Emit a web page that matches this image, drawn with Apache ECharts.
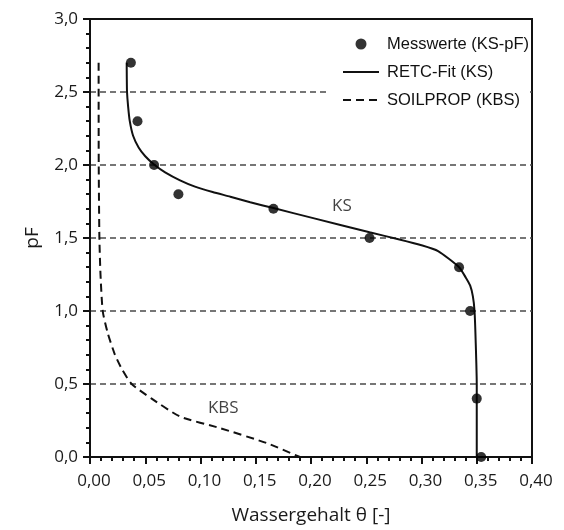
<!DOCTYPE html>
<html>
<head>
<meta charset="utf-8">
<script src="https://cdn.jsdelivr.net/npm/echarts@6/dist/echarts.min.js"></script>
<style>html,body{margin:0;padding:0;background:#fff}#c{width:564px;height:530px}</style>
</head>
<body>
<div id="c"></div>
<script>
// Messwerte (KS-pF)
const messTheta = [0.037, 0.043, 0.058, 0.080, 0.166, 0.253, 0.334, 0.344, 0.350, 0.354];
const messPF    = [2.7,   2.3,   2.0,   1.8,   1.7,   1.5,   1.3,   1.0,   0.4,   0.0];
// RETC-Fit (KS)
const retcTheta = [0.0332, 0.0333, 0.0335, 0.0345, 0.036, 0.039, 0.044, 0.050, 0.0585, 0.068, 0.0815, 0.095, 0.111, 0.127, 0.145, 0.166, 0.202, 0.253, 0.280, 0.300, 0.315, 0.334, 0.340, 0.344, 0.3465, 0.348, 0.349, 0.350, 0.350];
const retcPF    = [2.70,   2.60,   2.50,   2.40,   2.30,  2.20,  2.12,  2.06,  2.00,   1.95,  1.895,  1.852, 1.815, 1.783, 1.745, 1.705, 1.636, 1.539, 1.49,  1.45,  1.41,  1.30,  1.23,  1.175, 1.10,   1.00,  0.80,  0.50,  0.00];
// SOILPROP (KBS)
const kbsTheta = [0.0078, 0.0079, 0.0085, 0.0095, 0.0115, 0.016, 0.0226, 0.029, 0.0377, 0.0558, 0.0815, 0.1177, 0.160, 0.190];
const kbsPF    = [2.70,   2.00,   1.50,   1.25,   1.00,   0.85,  0.70,   0.60,  0.50,   0.40,   0.277,  0.198,  0.095, 0.00];
// inline annotations
const annoText  = ['KS', 'KBS'];
const annoTheta = [0.228, 0.1206];
const annoPF    = [1.72, 0.334];
// axis ticks
const xTickMin = 0, xTickMax = 0.4, xTickStep = 0.05;
const yTickMin = 0, yTickMax = 3.0, yTickStep = 0.5;
const seriesNames = ['Messwerte (KS-pF)', 'RETC-Fit (KS)', 'SOILPROP (KBS)'];
const xName = 'Wassergehalt θ [-]';
const yName = 'pF';

const zip = (a, b) => a.map((v, i) => [v, b[i]]);
const fmt = d => v => v.toFixed(d).replace('.', ',');
const tickFont = { fontFamily: 'Open Sans', fontSize: 17, color: '#1a1a1a' };

const chart = echarts.init(document.getElementById('c'));
chart.setOption({
  animation: false,
  backgroundColor: '#fff',
  grid: { left: 90, right: 32, top: 19, bottom: 71,
          show: true, borderColor: '#111', borderWidth: 2, backgroundColor: 'transparent' },
  legend: {
    orient: 'vertical', left: 330, top: 31,
    padding: [3, 0, 3, 12], backgroundColor: '#fff',
    itemWidth: 36, itemHeight: 11, itemGap: 8,
    textStyle: { fontFamily: 'Liberation Sans', fontSize: 16.5, color: '#111', lineHeight: 20, padding: [0, 0, 0, 3] },
    data: [
      { name: seriesNames[0], icon: 'circle' },
      { name: seriesNames[1], itemStyle: { opacity: 0 } },
      { name: seriesNames[2], itemStyle: { opacity: 0 } }
    ]
  },
  xAxis: {
    type: 'value', min: xTickMin, max: xTickMax, interval: xTickStep,
    name: xName, nameLocation: 'middle', nameGap: 49,
    nameTextStyle: { fontFamily: 'Open Sans', fontSize: 19, color: '#1a1a1a' },
    axisLine: { show: true, lineStyle: { color: '#111', width: 2 } },
    axisTick: { show: true, length: 7, lineStyle: { color: '#111', width: 2 } },
    minorTick: { show: true, splitNumber: 5, length: 4, lineStyle: { color: '#111', width: 2 } },
    axisLabel: Object.assign({ margin: 16, formatter: fmt(2), padding: [0, 0, 0, 8] }, tickFont),
    splitLine: { show: false }
  },
  yAxis: {
    type: 'value', min: yTickMin, max: yTickMax, interval: yTickStep,
    name: yName, nameLocation: 'middle', nameGap: 48, nameRotate: 90,
    nameTextStyle: { fontFamily: 'Open Sans', fontSize: 19, color: '#1a1a1a' },
    axisLine: { show: true, lineStyle: { color: '#111', width: 2 } },
    axisTick: { show: true, length: 7, lineStyle: { color: '#111', width: 2 } },
    minorTick: { show: true, splitNumber: 5, length: 4, lineStyle: { color: '#111', width: 2 } },
    axisLabel: Object.assign({ margin: 12, formatter: fmt(1) }, tickFont),
    splitLine: { show: true, showMinLine: false, showMaxLine: false,
                 lineStyle: { color: '#4a4a4a', width: 1.5, type: [6, 4] } }
  },
  series: [
    {
      name: seriesNames[1], type: 'line', data: zip(retcTheta, retcPF),
      showSymbol: false, smooth: 0.2, z: 4,
      lineStyle: { color: '#111', width: 2 }, itemStyle: { color: '#111' }
    },
    {
      name: seriesNames[2], type: 'line', data: zip(kbsTheta, kbsPF),
      showSymbol: false, smooth: 0.2, z: 4,
      lineStyle: { color: '#111', width: 2, type: [8, 5] }, itemStyle: { color: '#111' }
    },
    {
      name: seriesNames[0], type: 'scatter', data: zip(messTheta, messPF),
      symbol: 'circle', symbolSize: 10, z: 5,
      itemStyle: { color: '#000' }
    },
    {
      name: 'annotations', type: 'scatter', silent: true, symbolSize: 0, z: 6,
      data: annoText.map((t, i) => ({ name: t, value: [annoTheta[i], annoPF[i]] })),
      label: { show: true, position: 'inside', formatter: p => p.name, fontFamily: 'Open Sans', fontSize: 17, color: '#111' }
    }
  ]
});
</script>
</body>
</html>
